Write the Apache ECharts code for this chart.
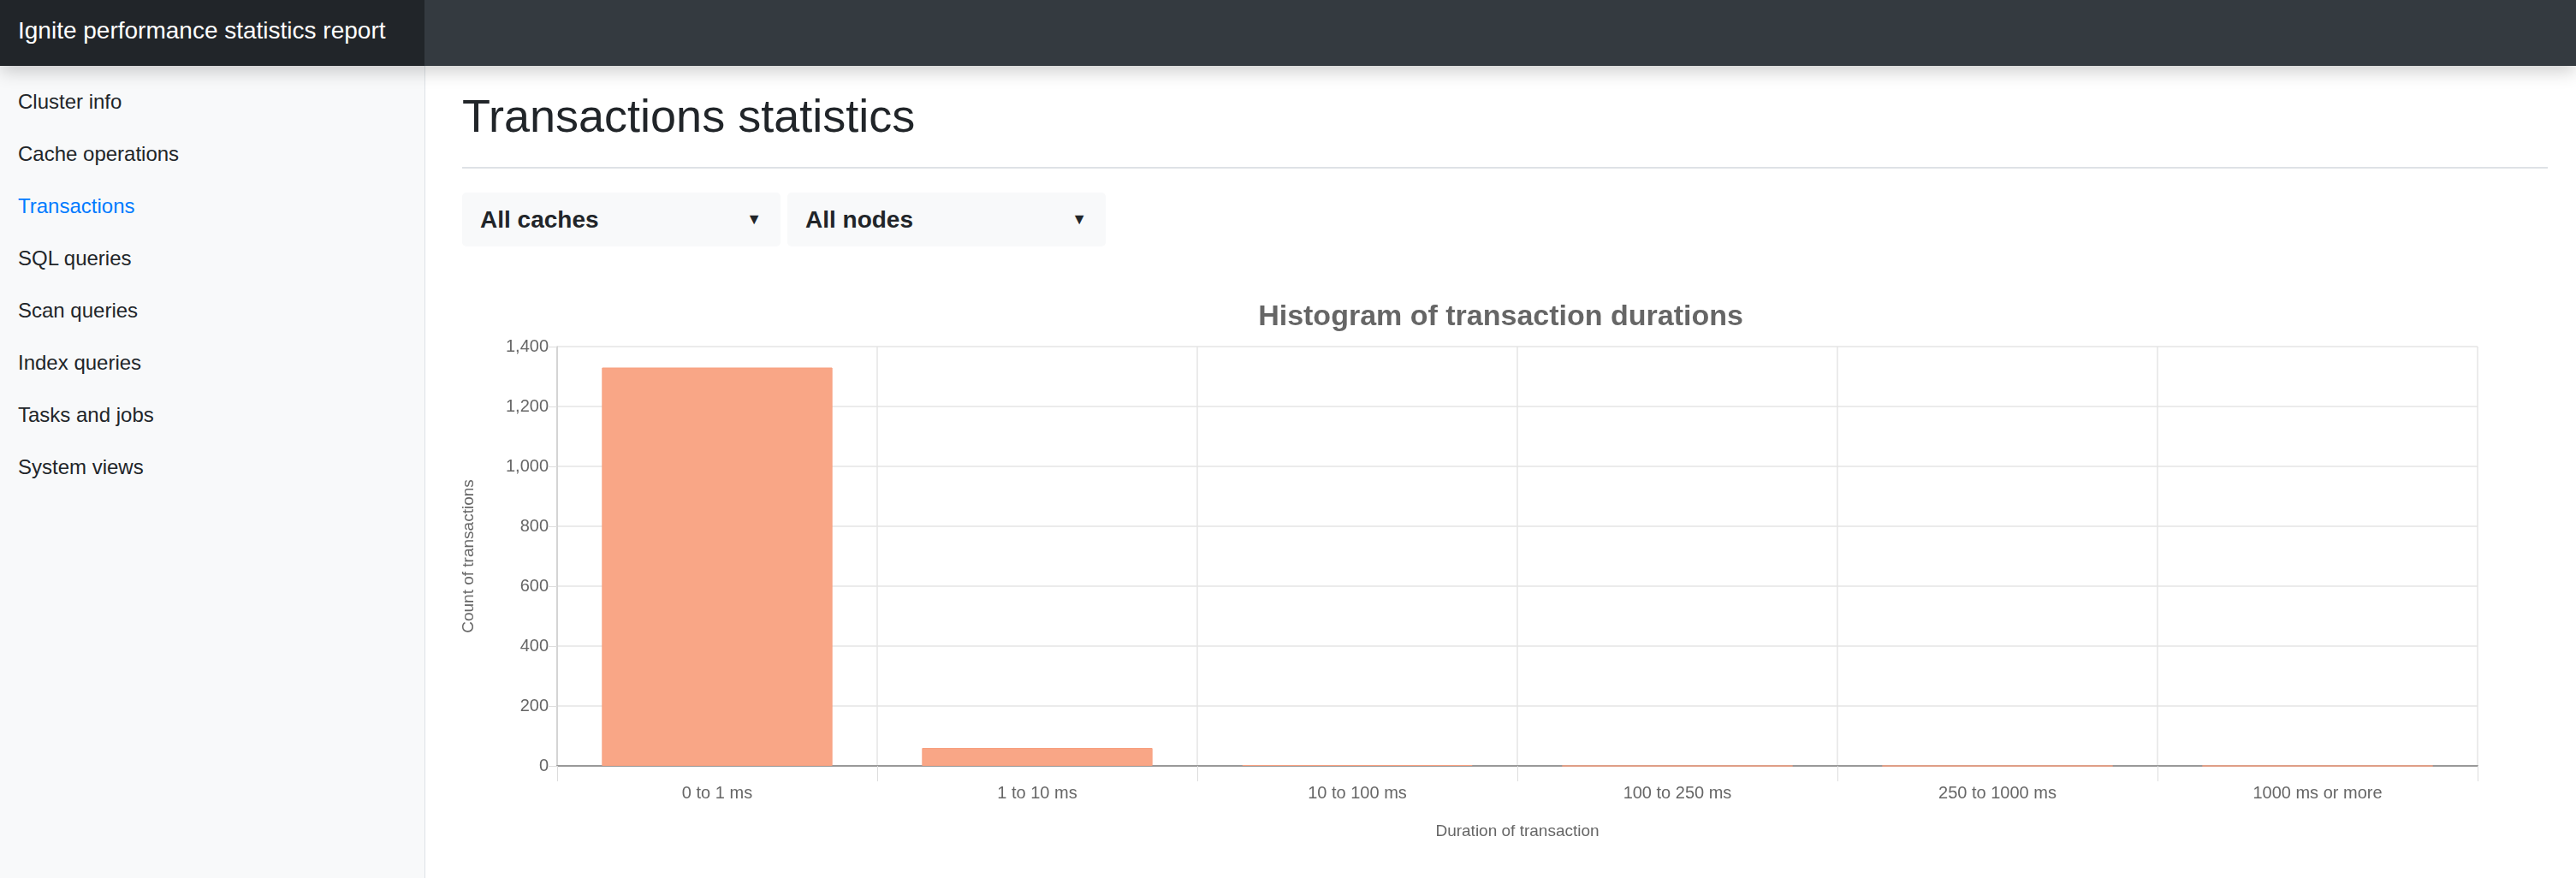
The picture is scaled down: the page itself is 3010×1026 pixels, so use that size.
<!DOCTYPE html>
<html><head><meta charset="utf-8">
<script src="https://cdn.jsdelivr.net/npm/echarts@6/dist/echarts.min.js"></script>
<style>
body{margin:0;width:3010px;height:1026px;overflow:hidden;font-family:"Helvetica Neue",Arial,"Liberation Sans",sans-serif;background:#fff;position:relative}
#hdr{position:absolute;left:0;top:0;width:3010px;height:77px;background:#343a40;box-shadow:0 6px 20px rgba(0,0,0,0.2);z-index:2}
#brand{position:absolute;left:0;top:0;width:496px;height:77px;background:#212529;color:#fff;font-size:28px;line-height:72px;padding-left:21px;box-sizing:border-box}
#side{position:absolute;left:0;top:77px;width:496px;height:949px;background:#f8f9fa;border-right:1px solid #dee2e6}
.it{position:absolute;left:21px;font-size:24px;color:#212529}
#h1{position:absolute;left:540px;top:104px;font-size:54px;color:#212529;font-weight:500}
#hr{position:absolute;left:540px;top:195px;width:2437px;height:2px;background:#dee2e6}
.dd{position:absolute;top:225px;height:63px;width:372px;background:#f8f9fa;border-radius:5px;font-size:28px;font-weight:bold;color:#212529;line-height:63px;padding-left:21px;box-sizing:border-box}
.dd span{position:absolute;right:22px;top:0;font-size:18px}
#chart{position:absolute;left:497px;top:77px;width:2513px;height:949px}
</style></head><body>
<div id="hdr"><div id="brand">Ignite performance statistics report</div></div>
<div id="side"></div>
<div id="h1">Transactions statistics</div>
<div id="hr"></div>
<div class="dd" style="left:540px">All caches<span>▼</span></div>
<div class="dd" style="left:920px">All nodes<span>▼</span></div>
<div id="chart"></div>
<script>
const menu = ["Cluster info","Cache operations","Transactions","SQL queries","Scan queries","Index queries","Tasks and jobs","System views"];
const categories = ["0 to 1 ms","1 to 10 ms","10 to 100 ms","100 to 250 ms","250 to 1000 ms","1000 ms or more"];
const counts = [1330, 60, 3, 0, 0, 0];
const yTicks = {min:0, max:1400, interval:200};

const side = document.getElementById('side');
menu.forEach((m,i)=>{const d=document.createElement('div');d.className='it';d.textContent=m;d.style.top=(28+i*61)+'px';if(m==='Transactions')d.style.color='#007bff';side.appendChild(d);});

const chart = echarts.init(document.getElementById('chart'));
chart.setOption({
  animation:false,
  title:{text:'Histogram of transaction durations',left:'center',top:272,textStyle:{fontSize:34,fontWeight:'bold',color:'#666',fontFamily:'Helvetica Neue, Arial, Liberation Sans, sans-serif'}},
  grid:{left:154,right:115,top:328,bottom:131},
  xAxis:{type:'category',data:categories,name:'Duration of transaction',nameLocation:'middle',nameGap:67,
    nameTextStyle:{fontSize:19,color:'#666'},
    axisLine:{lineStyle:{color:'#999',width:2}},
    axisTick:{show:true,length:18,alignWithLabel:false,lineStyle:{color:'#ddd'}},
    splitLine:{show:true,lineStyle:{color:'#e5e5e5',width:1.5}},
    axisLabel:{fontSize:20,color:'#666',margin:22}},
  yAxis:{type:'value',min:yTicks.min,max:yTicks.max,interval:yTicks.interval,name:'Count of transactions',nameLocation:'middle',nameGap:94,
    nameTextStyle:{fontSize:19,color:'#666'},
    axisLine:{show:true,lineStyle:{color:'#ccc',width:1.5}},
    axisTick:{show:true,length:10,lineStyle:{color:'#ddd'}},
    splitLine:{lineStyle:{color:'#e5e5e5',width:1.5}},
    axisLabel:{fontSize:20,color:'#666',margin:10}},
  series:[{type:'bar',data:counts,barCategoryGap:'28%',itemStyle:{color:'#f9a686',borderColor:'#f7a080',borderWidth:1}}]
});
</script>
</body></html>
